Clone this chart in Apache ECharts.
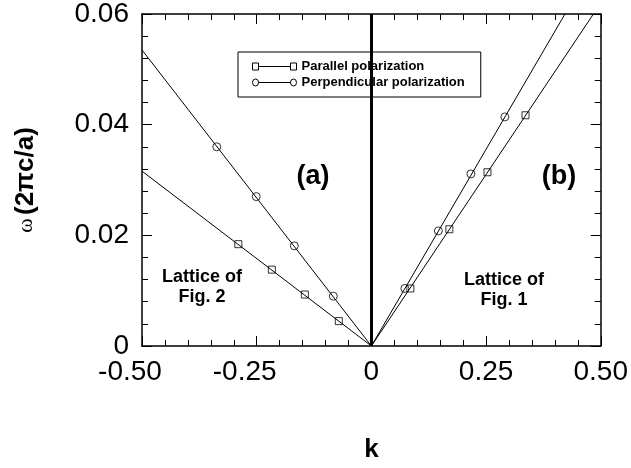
<!DOCTYPE html>
<html>
<head>
<meta charset="utf-8">
<script src="https://cdn.jsdelivr.net/npm/echarts@6/dist/echarts.min.js"></script>
<style>html,body{margin:0;padding:0;background:#fff;}#c{width:631px;height:468px;}</style>
</head>
<body>
<div id="c"></div>
<script>
// ---- data ----
const xTicks = [-0.5, -0.25, 0, 0.25, 0.5];
const yTicks = [0, 0.02, 0.04, 0.06];

// (a) lattice of Fig. 2 (k < 0)
const perpLeftK = [-0.337, -0.251, -0.168, -0.083];
const perpLeftW = [0.0360, 0.0270, 0.0181, 0.0090];
const parLeftK  = [-0.290, -0.217, -0.145, -0.071];
const parLeftW  = [0.0184, 0.0138, 0.0093, 0.0045];
// (b) lattice of Fig. 1 (k > 0)
const perpRightK = [0.073, 0.146, 0.217, 0.291];
const perpRightW = [0.0104, 0.0208, 0.0311, 0.0414];
const parRightK  = [0.085, 0.170, 0.253, 0.336];
const parRightW  = [0.0104, 0.0211, 0.0314, 0.0417];

// fitted straight lines (endpoints)
const perpLeftLineK = [-0.5, 0],   perpLeftLineW = [0.0535, 0];
const parLeftLineK  = [-0.5, 0],   parLeftLineW  = [0.0316, 0];
const perpRightLineK = [0, 0.422], perpRightLineW = [0, 0.06];
const parRightLineK  = [0, 0.484], parRightLineW  = [0, 0.06];

const PAR = 'Parallel polarization';
const PERP = 'Perpendicular polarization';

const zip = (a, b) => a.map((v, i) => [v, b[i]]);
const FONT = 'Liberation Sans, Arial, sans-serif';
const fmtY = v => (v === 0 ? '0' : v.toFixed(2));
const fmtX = v => (v === 0 ? '0' : (v < 0 ? '{n|' + v.toFixed(2) + '}' : v.toFixed(2)));

function xAx(pos, showLabel) {
  return {
    type: 'value', position: pos, min: xTicks[0], max: xTicks[xTicks.length - 1], interval: 0.25,
    axisLine: { show: true, onZero: false, lineStyle: { color: '#000', width: 1.5 } },
    axisTick: { show: true, inside: true, length: 10, lineStyle: { color: '#000', width: 1 } },
    minorTick: { show: true, splitNumber: 5, length: 6, lineStyle: { color: '#000', width: 1 } },
    splitLine: { show: false },
    axisLabel: { show: showLabel, fontSize: 28, color: '#000', fontFamily: FONT, margin: 12, formatter: fmtX,
                 rich: { n: { fontSize: 28, color: '#000', fontFamily: FONT, padding: [0, 24, 0, 0] } } },
    name: showLabel ? 'k' : '', nameLocation: 'middle', nameGap: 91,
    nameTextStyle: { fontSize: 26, fontWeight: 'bold', color: '#000', fontFamily: FONT }
  };
}
function yAx(pos, showLabel) {
  return {
    type: 'value', position: pos, min: yTicks[0], max: yTicks[yTicks.length - 1], interval: 0.02,
    axisLine: { show: true, onZero: false, lineStyle: { color: '#000', width: 1.5 } },
    axisTick: { show: true, inside: true, length: 10, lineStyle: { color: '#000', width: 1 } },
    minorTick: { show: true, splitNumber: 5, length: 6, lineStyle: { color: '#000', width: 1 } },
    splitLine: { show: false },
    axisLabel: { show: showLabel, fontSize: 28, color: '#000', fontFamily: FONT, margin: 13, formatter: fmtY },
    name: showLabel ? '{w|ω} {b|(2πc/a)}' : '', nameLocation: 'middle', nameGap: 103, nameRotate: 90,
    nameTextStyle: {
      color: '#000',
      rich: {
        w: { fontSize: 22, fontFamily: 'Liberation Serif, serif', color: '#000' },
        b: { fontSize: 26, fontWeight: 'bold', fontFamily: FONT, color: '#000' }
      }
    }
  };
}

const lineStyle = { color: '#000', width: 1 };
function lineSeries(name, k, w) {
  return { name, type: 'line', data: zip(k, w), showSymbol: false, symbol: 'none',
           lineStyle, itemStyle: { color: '#000' }, silent: true, z: 2 };
}
function markSeries(name, k, w, symbol, size) {
  return { name, type: 'scatter', data: zip(k, w), symbol, symbolSize: size,
           itemStyle: { color: 'rgba(0,0,0,0)', borderColor: '#000', borderWidth: 1 }, silent: true, z: 3 };
}

const sqIcon = 'path://M0,0.5 L6,0.5 L6,6.5 L0,6.5 Z M6,3.5 L38,3.5 M38,0.5 L44,0.5 L44,6.5 L38,6.5 Z';
const ciIcon = 'path://M0,3.5 A3,3 0 1,1 6,3.5 A3,3 0 1,1 0,3.5 Z M6,3.5 L38,3.5 M38,3.5 A3,3 0 1,1 44,3.5 A3,3 0 1,1 38,3.5 Z';

const chart = echarts.init(document.getElementById('c'), null, { renderer: 'canvas' });
chart.setOption({
  animation: false,
  backgroundColor: '#fff',
  grid: { left: 142, right: 28, top: 12, bottom: 121, containLabel: false },
  xAxis: [xAx('bottom', true), xAx('top', false)],
  yAxis: [yAx('left', true), yAx('right', false)],
  legend: {
    orient: 'vertical', left: 238, top: 52,
    itemWidth: 44, itemHeight: 7, itemGap: 3,
    symbolKeepAspect: false,
    padding: [8, 16, 8, 14],
    borderColor: '#000', borderWidth: 1, backgroundColor: '#fff',
    textStyle: { fontWeight: 'bold', fontSize: 13, fontFamily: FONT, color: '#000' },
    itemStyle: { color: 'rgba(0,0,0,0)', borderColor: '#000', borderWidth: 1 },
    data: [{ name: PAR, icon: sqIcon }, { name: PERP, icon: ciIcon }],
    selectedMode: false
  },
  graphic: [
    { type: 'text', x: 313, y: 177, style: { text: '(a)', font: 'bold 27px ' + FONT, fill: '#000', textAlign: 'center', textVerticalAlign: 'middle' } },
    { type: 'text', x: 559, y: 177, style: { text: '(b)', font: 'bold 27px ' + FONT, fill: '#000', textAlign: 'center', textVerticalAlign: 'middle' } },
    { type: 'text', x: 202, y: 287, style: { text: 'Lattice of\nFig. 2', font: 'bold 18px ' + FONT, lineHeight: 20, fill: '#000', textAlign: 'center', textVerticalAlign: 'middle' } },
    { type: 'text', x: 504, y: 290, style: { text: 'Lattice of\nFig. 1', font: 'bold 18px ' + FONT, lineHeight: 20, fill: '#000', textAlign: 'center', textVerticalAlign: 'middle' } }
  ],
  series: [
    lineSeries(PAR, parLeftLineK, parLeftLineW),
    lineSeries(PERP, perpLeftLineK, perpLeftLineW),
    lineSeries(PAR, parRightLineK, parRightLineW),
    lineSeries(PERP, perpRightLineK, perpRightLineW),
    markSeries(PAR, parLeftK, parLeftW, 'rect', 7),
    markSeries(PERP, perpLeftK, perpLeftW, 'circle', 8),
    markSeries(PAR, parRightK, parRightW, 'rect', 7),
    markSeries(PERP, perpRightK, perpRightW, 'circle', 8),
    {
      type: 'line', data: [], silent: true,
      markLine: { silent: true, symbol: ['none', 'none'], label: { show: false },
                  lineStyle: { color: '#000', width: 3, type: 'solid' },
                  data: [{ xAxis: 0 }] }
    }
  ]
});
</script>
</body>
</html>
